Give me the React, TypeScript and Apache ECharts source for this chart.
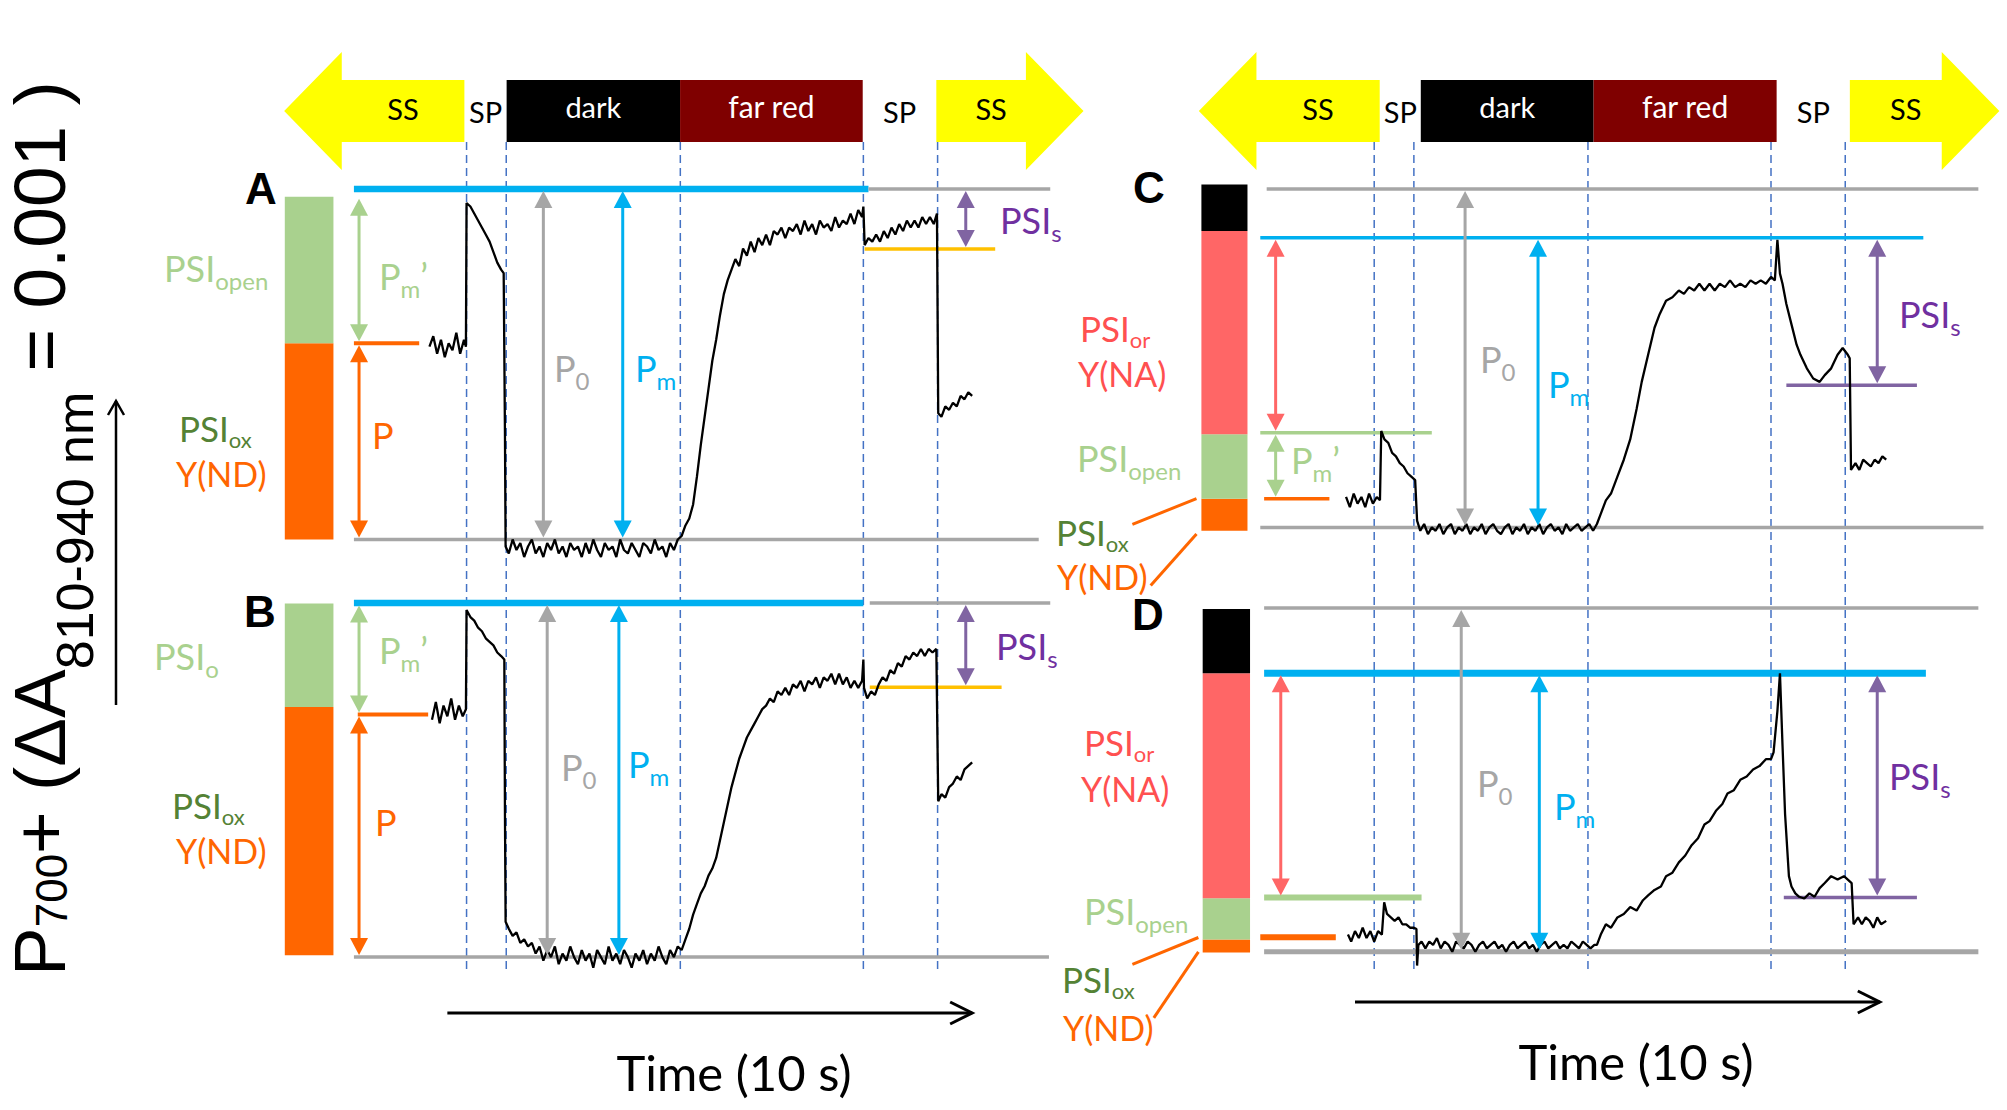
import React, { useEffect, useRef } from "react";
import * as echarts from "echarts";

// ================= DATA =================
// light-regime phases (time in s, relative to the first saturation pulse)
const phaseNames = ["SS", "SP", "dark", "far red", "SP", "SS"];
const phaseStartsAB = [-14.25, -0.17, 3.13, 16.68, 30.95, 36.7];
const phaseEndsAB = [-0.17, 3.13, 16.68, 30.95, 36.7, 48.2];
const phaseStartsCD = [-13.7, 0.43, 3.64, 17.14, 31.44, 37.16];
const phaseEndsCD = [0.43, 3.64, 17.14, 31.44, 37.16, 48.84];
// dashed event lines (s)
const eventTimes = [0, 3.1, 16.7, 31.0, 36.8];

// signal levels (baseline = 0, P0 = 100)
const levelsA = { P: 56.0, open: 97.8, Pm: 100, P0: 100, PSIs: 82.9 };
const levelsB = { P: 68.5, open: 99.8, Pm: 100, P0: 100, PSIs: 76.2 };
const levelsC = { P: 8.5, PmPrime: 28.0, Pm: 85.6, P0: 100, PSIs: 42.0 };
const levelsD = { P: 4.2, PmPrime: 15.8, Pm: 81.0, P0: 100, PSIs: 15.8 };

// stacked PSI-state bars (segment boundaries)
const barA = [0, 56.0, 97.8];
const barB = [0.5, 70.6, 99.8];
const barC = [-1, 8.5, 27.5, 87.6, 101.3];
const barD = [-0.2, 3.6, 15.6, 81.0, 99.7];
const barKindsAB = ["ox", "open"];
const barKindsCD = ["ox", "open", "or", "dark"];

// P700+ traces [time s, signal]
const traceA = [
  [-2.9, 55], [-2.6, 58], [-2.3, 53], [-2.0, 57], [-1.7, 52], [-1.4, 56], [-1.1, 54], [-0.8, 59], [-0.5, 53], [-0.2, 57], [-0.05, 55],
  [0.0, 96], [0.3, 95], [0.6, 93], [0.9, 91], [1.2, 89], [1.5, 87], [1.8, 85], [2.1, 82], [2.4, 79], [2.7, 77], [2.9, 76],
  [3.0, 30], [3.05, -2], [3.3, -4], [3.6, 0], [3.9, -3], [4.2, -1], [4.5, -5], [4.8, -2], [5.1, 0], [5.4, -4], [5.7, -2], [6.0, -5],
  [6.3, -1], [6.6, -3], [6.9, 0], [7.2, -4], [7.5, -2], [7.8, -5], [8.1, -1], [8.4, -3], [8.7, -2], [9.0, -5], [9.3, -1], [9.6, -4],
  [9.9, 0], [10.2, -3], [10.5, -5], [10.8, -1], [11.1, -3], [11.4, -2], [11.7, -5], [12.0, 0], [12.3, -3], [12.6, -4], [12.9, -1],
  [13.2, -3], [13.5, -5], [13.8, -1], [14.1, -2], [14.4, -4], [14.7, 0], [15.0, -3], [15.3, -2], [15.6, -5], [15.9, -1], [16.2, -3], [16.5, 0],
  [16.8, 1], [17.1, 4], [17.4, 6], [17.7, 10], [18.0, 18], [18.3, 27], [18.6, 35], [18.9, 43], [19.2, 51], [19.5, 57], [19.8, 64],
  [20.1, 70], [20.4, 74], [20.7, 77], [21.0, 80], [21.3, 78], [21.6, 83], [21.9, 81], [22.2, 85], [22.5, 82], [22.8, 86], [23.1, 84],
  [23.4, 87], [23.7, 84], [24.0, 88], [24.3, 87], [24.6, 89], [24.9, 86], [25.2, 89], [25.5, 88], [25.8, 90], [26.1, 87], [26.4, 91],
  [26.7, 88], [27.0, 90], [27.3, 87], [27.6, 91], [27.9, 89], [28.2, 90], [28.5, 88], [28.8, 92], [29.1, 89], [29.4, 91], [29.7, 90],
  [30.0, 93], [30.3, 90], [30.6, 94], [30.9, 92],
  [31.0, 95], [31.1, 84], [31.4, 86], [31.7, 85], [32.0, 87], [32.3, 85], [32.6, 88], [32.9, 86], [33.2, 89], [33.5, 87], [33.8, 90],
  [34.1, 88], [34.4, 91], [34.7, 89], [35.0, 91], [35.3, 89], [35.6, 92], [35.9, 90], [36.2, 92], [36.5, 90], [36.75, 93],
  [36.85, 36], [37.1, 35], [37.4, 38], [37.7, 37], [38.0, 39], [38.3, 38], [38.6, 41], [38.9, 40], [39.2, 42], [39.5, 41],
];

const traceB = [
  [-2.7, 67], [-2.4, 72], [-2.1, 66], [-1.8, 71], [-1.5, 68], [-1.2, 73], [-0.9, 67], [-0.6, 71], [-0.3, 68], [-0.05, 70],
  [0.0, 98], [0.3, 96], [0.6, 95], [0.9, 93], [1.2, 92], [1.5, 90], [1.8, 89], [2.1, 88], [2.4, 86], [2.7, 85], [2.95, 84],
  [3.0, 40], [3.05, 10], [3.3, 8], [3.6, 6], [3.9, 7], [4.2, 4], [4.5, 5], [4.8, 3], [5.1, 4], [5.4, 1], [5.7, 3], [6.0, -1],
  [6.3, 2], [6.6, 0], [6.9, 3], [7.2, -2], [7.5, 1], [7.8, -1], [8.1, 3], [8.4, 0], [8.7, -2], [9.0, 2], [9.3, -1], [9.6, 1],
  [9.9, -3], [10.2, 2], [10.5, 0], [10.8, -2], [11.1, 3], [11.4, -1], [11.7, 1], [12.0, -2], [12.3, 2], [12.6, 0], [12.9, -3],
  [13.2, 1], [13.5, -1], [13.8, 2], [14.1, -2], [14.4, 1], [14.7, -1], [15.0, 3], [15.3, 0], [15.6, -2], [15.9, 2], [16.2, 0], [16.5, 3],
  [16.8, 2], [17.1, 5], [17.4, 8], [17.7, 12], [18.0, 15], [18.3, 18], [18.6, 20], [18.9, 23], [19.2, 25], [19.5, 28], [19.8, 33],
  [20.1, 38], [20.4, 43], [20.7, 48], [21.0, 52], [21.3, 56], [21.6, 59], [21.9, 62], [22.2, 64], [22.5, 66], [22.8, 68], [23.1, 70],
  [23.4, 71], [23.7, 73], [24.0, 72], [24.3, 75], [24.6, 74], [24.9, 76], [25.2, 74], [25.5, 77], [25.8, 76], [26.1, 78], [26.4, 75],
  [26.7, 78], [27.0, 77], [27.3, 79], [27.6, 76], [27.9, 79], [28.2, 78], [28.5, 80], [28.8, 77], [29.1, 80], [29.4, 77], [29.7, 79],
  [30.0, 76], [30.3, 78], [30.6, 76], [30.9, 78],
  [31.0, 84], [31.05, 76], [31.3, 73], [31.6, 75], [31.9, 74], [32.2, 77], [32.5, 79], [32.8, 78], [33.1, 81], [33.4, 80], [33.7, 83],
  [34.0, 82], [34.3, 85], [34.6, 84], [34.9, 86], [35.2, 85], [35.5, 87], [35.8, 85], [36.1, 87], [36.4, 86], [36.7, 87],
  [36.85, 44], [37.1, 46], [37.4, 45], [37.7, 48], [38.0, 49], [38.3, 51], [38.6, 50], [38.9, 53], [39.2, 54], [39.5, 55],
];

const traceC = [
  [-2.2, 9], [-1.9, 6], [-1.6, 10], [-1.3, 7], [-1.0, 9], [-0.7, 6], [-0.4, 10], [-0.1, 7], [0.2, 9], [0.45, 8],
  [0.55, 28.5], [0.8, 26], [1.1, 25], [1.4, 22], [1.7, 21], [2.0, 19], [2.3, 18], [2.6, 16], [2.9, 15], [3.2, 14],
  [3.35, 2], [3.6, -1], [3.9, 1], [4.2, -2], [4.5, 0], [4.8, -1], [5.1, 1], [5.4, -2], [5.7, 0], [6.0, 1], [6.3, -2], [6.6, 0],
  [6.9, -1], [7.2, 1], [7.5, -2], [7.8, 0], [8.1, -1], [8.4, 1], [8.7, -2], [9.0, 0], [9.3, 1], [9.6, -1], [9.9, -2], [10.2, 0],
  [10.5, 1], [10.8, -2], [11.1, 0], [11.4, -1], [11.7, 1], [12.0, -2], [12.3, 0], [12.6, -1], [12.9, 1], [13.2, -2], [13.5, 0],
  [13.8, 1], [14.1, -1], [14.4, 0], [14.7, -2], [15.0, 1], [15.3, -1], [15.6, 0], [15.9, 1], [16.2, -1], [16.5, 0], [16.8, 1],
  [17.1, -1], [17.4, 1],
  [17.7, 4], [18.1, 8], [18.5, 10], [19.0, 15], [19.5, 20], [20.0, 26], [20.5, 35], [20.9, 43], [21.4, 51], [21.9, 59], [22.3, 63],
  [22.8, 67], [23.3, 68], [23.8, 70], [24.2, 69], [24.6, 71], [25.0, 70], [25.4, 72], [25.8, 70], [26.2, 72], [26.6, 70], [27.0, 72],
  [27.4, 71], [27.8, 73], [28.2, 71], [28.6, 72], [29.0, 71], [29.4, 73], [29.8, 72], [30.2, 73], [30.6, 72], [31.0, 74], [31.3, 73],
  [31.5, 85], [31.7, 75], [31.9, 72], [32.2, 66], [32.6, 60], [33.0, 54], [33.3, 51], [33.8, 47], [34.3, 44], [34.8, 43], [35.2, 45],
  [35.7, 47], [36.2, 51], [36.6, 53], [37.0, 51], [37.15, 50],
  [37.25, 17], [37.6, 19], [37.9, 17], [38.2, 20], [38.5, 19], [38.8, 18], [39.1, 20], [39.4, 19], [39.7, 21], [40.0, 20],
];

const traceD = [
  [-2.05, 5], [-1.8, 3], [-1.5, 6], [-1.2, 4], [-0.9, 7], [-0.6, 4], [-0.3, 6], [0.0, 3], [0.3, 6], [0.6, 5],
  [0.78, 14.4], [1.0, 11], [1.3, 10], [1.6, 9], [1.9, 10], [2.2, 8], [2.5, 8], [2.8, 7], [3.1, 7], [3.3, 6.6],
  [3.35, -4], [3.45, 2], [3.7, 3], [4.0, 1], [4.3, 3], [4.6, 2], [4.9, 4], [5.2, 1], [5.5, 3], [5.8, 2], [6.1, 0], [6.4, 3],
  [6.7, 2], [7.0, 1], [7.3, 3], [7.6, 2], [7.9, 0], [8.2, 2], [8.5, 3], [8.8, 1], [9.1, 2], [9.4, 3], [9.7, 1], [10.0, 2],
  [10.3, 0], [10.6, 2], [10.9, 3], [11.2, 1], [11.5, 2], [11.8, 3], [12.1, 1], [12.4, 2], [12.7, 0], [13.0, 2], [13.3, 3],
  [13.6, 1], [13.9, 2], [14.2, 3], [14.5, 1], [14.8, 2], [15.1, 1], [15.4, 3], [15.7, 2], [16.0, 1], [16.3, 3], [16.6, 2],
  [16.9, 1], [17.2, 2],
  [17.4, 2], [17.7, 5], [18.1, 8], [18.5, 7], [19.0, 10], [19.5, 11], [20.0, 13], [20.5, 12], [21.0, 15], [21.4, 16.4], [21.9, 18],
  [22.4, 19], [22.8, 22], [23.3, 23], [23.8, 26], [24.3, 28], [24.8, 31], [25.3, 33], [25.8, 37], [26.2, 38], [26.7, 41], [27.2, 43],
  [27.6, 46], [28.1, 47], [28.6, 50], [29.1, 51], [29.6, 53], [30.1, 54], [30.6, 56], [31.0, 56], [31.2, 58],
  [31.5, 70], [31.7, 81], [31.9, 60], [32.1, 40], [32.2, 34], [32.4, 22], [32.6, 19], [32.9, 17], [33.2, 16], [33.6, 15.5], [34.0, 17],
  [34.4, 16], [34.8, 18.5], [35.2, 20], [35.7, 22], [36.2, 21], [36.7, 22], [37.0, 21], [37.3, 20],
  [37.45, 8], [37.8, 10], [38.1, 8], [38.4, 10], [38.7, 9], [39.0, 7], [39.3, 10], [39.6, 8], [40.0, 9],
];

// ================= LAYOUT & STYLE =================
const W = 2007;
const H = 1110;
const FONT = "Lato, 'Liberation Sans', Arial, sans-serif";
const SANS = "'Liberation Sans', Arial, Helvetica, sans-serif";
const CENTRAL_LATO = 0.387;
const CENTRAL_SANS = 0.3465;
const X_MIN = -36;
const X_MAX = 49;
const PX = 12.8; // px per second
const Y_MIN = -15;
const Y_MAX = 115;
const COL_ORIGIN = [466.56, 1374.2];
const COL_TIME_Y = [1013, 1002];
const TIME_SPAN = [-1.5, 39.5];
const HEAD_TOP = 52, HEAD_BOT = 170, BODY_TOP = 80, BODY_BOT = 142, HEAD_LEN = 4.5;
const DASH_TOP = 142, DASH_BOT = 973;

const COL = {
  yellow: "#FFFF00", farRed: "#7F0000", blue: "#00B0F0", gray: "#A6A6A6", dash: "#4472C4",
  green: "#A9D18E", orange: "#FF6600", dkGreen: "#548235", red: "#FF6666", redText: "#FF5050",
  purple: "#8064A2", purpleText: "#7030A0", gold: "#FFC000",
};
const BAR_COLORS: Record<string, string> = { ox: COL.orange, open: COL.green, or: COL.red, dark: "#000000" };

type Part = [string, "m" | "s"];
type Label = { x: number; y: number; parts: Part[]; color: string; main?: number; sub?: number; drop?: number };

const PSI = (s: string): Part[] => [["PSI", "m"], [s, "s"]];
const PMP: Part[] = [["P", "m"], ["m", "s"], ["\u2019", "m"]];
// compact sizes for the tightly stacked two-line labels
const UPPER = { main: 35, sub: 22, drop: 6 };
const LOWER = { main: 34 };

const panels: any[] = [
  {
    col: 0, top: 189, base: 539.5, trace: traceA, bar: barA, kinds: barKindsAB, barX: [-14.2, -10.4],
    letter: { t: "A", x: 261, y: 188 },
    lines: [
      { lv: levelsA.Pm, from: -8.8, to: 31.4, color: COL.blue, width: 6.5 },
      { lv: levelsA.P0, from: 31.4, to: 45.6, color: COL.gray, width: 3.5 },
      { lv: 0, from: -8.8, to: 44.7, color: COL.gray, width: 3.5 },
      { lv: levelsA.P, from: -8.8, to: -3.7, color: COL.orange, width: 4 },
      { lv: levelsA.PSIs, from: 31.1, to: 41.3, color: COL.gold, width: 3.5 },
    ],
    arrows: [
      { x: -8.4, from: levelsA.open, to: levelsA.P, color: COL.green },
      { x: -8.4, from: levelsA.P, to: 0, color: COL.orange },
      { x: 6.0, from: levelsA.P0, to: 0, color: COL.gray },
      { x: 12.2, from: levelsA.Pm, to: 0, color: COL.blue },
      { x: 39.0, from: levelsA.P0, to: levelsA.PSIs, color: COL.purple },
    ],
    labels: [
      { x: 164, y: 282, parts: PSI("open"), color: COL.green },
      { x: 179, y: 442, parts: PSI("ox"), color: COL.dkGreen, ...UPPER },
      { x: 176, y: 487, parts: [["Y(ND)", "m"]], color: COL.orange, ...LOWER },
      { x: 379, y: 290, parts: PMP, color: COL.green },
      { x: 372, y: 449, parts: [["P", "m"]], color: COL.orange },
      { x: 554, y: 382, parts: [["P", "m"], ["0", "s"]], color: COL.gray },
      { x: 635, y: 382, parts: [["P", "m"], ["m", "s"]], color: COL.blue },
      { x: 1000, y: 234, parts: PSI("s"), color: COL.purpleText },
    ] as Label[],
  },
  {
    col: 0, top: 602.9, base: 957.1, trace: traceB, bar: barB, kinds: barKindsAB, barX: [-14.2, -10.4],
    letter: { t: "B", x: 260, y: 611 },
    lines: [
      { lv: levelsB.Pm, from: -8.8, to: 31.0, color: COL.blue, width: 6.5 },
      { lv: levelsB.P0, from: 31.5, to: 45.6, color: COL.gray, width: 3.5 },
      { lv: 0, from: -8.8, to: 45.5, color: COL.gray, width: 3.5 },
      { lv: levelsB.P, from: -8.5, to: -3.0, color: COL.orange, width: 4 },
      { lv: levelsB.PSIs, from: 31.5, to: 41.8, color: COL.gold, width: 3.5 },
    ],
    arrows: [
      { x: -8.4, from: levelsB.open, to: levelsB.P, color: COL.green },
      { x: -8.4, from: levelsB.P, to: 0, color: COL.orange },
      { x: 6.3, from: levelsB.P0, to: 0, color: COL.gray },
      { x: 11.9, from: levelsB.Pm, to: 0, color: COL.blue },
      { x: 39.0, from: levelsB.P0, to: levelsB.PSIs, color: COL.purple },
    ],
    labels: [
      { x: 154, y: 670, parts: PSI("o"), color: COL.green },
      { x: 172, y: 819, parts: PSI("ox"), color: COL.dkGreen, ...UPPER },
      { x: 176, y: 864, parts: [["Y(ND)", "m"]], color: COL.orange, ...LOWER },
      { x: 379, y: 664, parts: PMP, color: COL.green },
      { x: 375, y: 836, parts: [["P", "m"]], color: COL.orange },
      { x: 561, y: 781, parts: [["P", "m"], ["0", "s"]], color: COL.gray },
      { x: 628, y: 778, parts: [["P", "m"], ["m", "s"]], color: COL.blue },
      { x: 996, y: 660, parts: PSI("s"), color: COL.purpleText },
    ] as Label[],
  },
  {
    col: 1, top: 189, base: 527.4, trace: traceC, bar: barC, kinds: barKindsCD, barX: [-13.5, -9.9],
    letter: { t: "C", x: 1149, y: 187 },
    lines: [
      { lv: levelsC.P0, from: -8.4, to: 47.2, color: COL.gray, width: 3.5 },
      { lv: levelsC.Pm, from: -8.9, to: 42.9, color: COL.blue, width: 3.5 },
      { lv: 0, from: -8.9, to: 47.6, color: COL.gray, width: 3.5 },
      { lv: levelsC.PmPrime, from: -8.9, to: 4.5, color: COL.green, width: 3.5 },
      { lv: levelsC.P, from: -8.6, to: -3.5, color: COL.orange, width: 3.5 },
      { lv: levelsC.PSIs, from: 32.2, to: 42.4, color: COL.purple, width: 3.5 },
    ],
    arrows: [
      { x: -7.7, from: levelsC.Pm, to: levelsC.PmPrime, color: COL.red },
      { x: -7.7, from: levelsC.PmPrime, to: levelsC.P, color: COL.green },
      { x: 7.1, from: levelsC.P0, to: 0, color: COL.gray },
      { x: 12.8, from: levelsC.Pm, to: 0, color: COL.blue },
      { x: 39.3, from: levelsC.Pm, to: levelsC.PSIs, color: COL.purple },
    ],
    labels: [
      { x: 1080, y: 342, parts: PSI("or"), color: COL.redText, ...UPPER },
      { x: 1078, y: 387, parts: [["Y(NA)", "m"]], color: COL.redText, ...LOWER },
      { x: 1077, y: 472, parts: PSI("open"), color: COL.green },
      { x: 1056, y: 546, parts: PSI("ox"), color: COL.dkGreen, ...UPPER },
      { x: 1057, y: 590, parts: [["Y(ND)", "m"]], color: COL.orange, ...LOWER },
      { x: 1480, y: 373, parts: [["P", "m"], ["0", "s"]], color: COL.gray },
      { x: 1548, y: 398, parts: [["P", "m"], ["m", "s"]], color: COL.blue },
      { x: 1291, y: 474, parts: PMP, color: COL.green },
      { x: 1899, y: 328, parts: PSI("s"), color: COL.purpleText },
    ] as Label[],
    connectors: [[1196.5, 498.6, 1132.4, 524.3], [1196.5, 533.9, 1150.7, 585.5]],
  },
  {
    col: 1, top: 607.9, base: 951.8, trace: traceD, bar: barD, kinds: barKindsCD, barX: [-13.4, -9.7],
    letter: { t: "D", x: 1148, y: 614 },
    lines: [
      { lv: levelsD.P0, from: -8.6, to: 47.2, color: COL.gray, width: 3.5 },
      { lv: levelsD.Pm, from: -8.6, to: 43.1, color: COL.blue, width: 7 },
      { lv: 0, from: -8.6, to: 47.2, color: COL.gray, width: 5 },
      { lv: levelsD.PmPrime, from: -8.6, to: 3.7, color: COL.green, width: 6 },
      { lv: levelsD.P, from: -8.9, to: -3.0, color: COL.orange, width: 6 },
      { lv: levelsD.PSIs, from: 32.0, to: 42.4, color: COL.purple, width: 3.5 },
    ],
    arrows: [
      { x: -7.3, from: levelsD.Pm, to: levelsD.PmPrime, color: COL.red },
      { x: 6.8, from: levelsD.P0, to: 0, color: COL.gray },
      { x: 12.9, from: levelsD.Pm, to: 0, color: COL.blue },
      { x: 39.3, from: levelsD.Pm, to: levelsD.PSIs, color: COL.purple },
    ],
    labels: [
      { x: 1084, y: 756, parts: PSI("or"), color: COL.redText, ...UPPER },
      { x: 1081, y: 802, parts: [["Y(NA)", "m"]], color: COL.redText, ...LOWER },
      { x: 1084, y: 925, parts: PSI("open"), color: COL.green },
      { x: 1062, y: 993, parts: PSI("ox"), color: COL.dkGreen, ...UPPER },
      { x: 1063, y: 1041, parts: [["Y(ND)", "m"]], color: COL.orange, ...LOWER },
      { x: 1477, y: 797, parts: [["P", "m"], ["0", "s"]], color: COL.gray },
      { x: 1554, y: 820, parts: [["P", "m"], ["m", "s"]], color: COL.blue },
      { x: 1889, y: 790, parts: PSI("s"), color: COL.purpleText },
    ] as Label[],
    connectors: [[1198.4, 937.5, 1132.4, 964.3], [1198.4, 951.8, 1153.8, 1017.9]],
  },
];

let measureCtx: CanvasRenderingContext2D | null = null;
function textWidth(text: string, font: string): number {
  if (!measureCtx) measureCtx = document.createElement("canvas").getContext("2d");
  measureCtx!.font = font;
  return measureCtx!.measureText(text).width;
}

function labelEls(l: Label) {
  const main = l.main ?? 36, sub = l.sub ?? 24, drop = l.drop ?? 8;
  const out: any[] = [];
  let cx = l.x;
  for (const [txt, kind] of l.parts) {
    const size = kind === "s" ? sub : main;
    const bl = kind === "s" ? l.y + drop : l.y;
    const font = `${size}px ${FONT}`;
    out.push({
      type: "text", x: cx, y: bl - CENTRAL_LATO * size, silent: true, z: 50,
      style: {
        text: txt, fill: l.color, font, align: "left", verticalAlign: "middle",
        lineHeight: kind === "s" ? Math.round(size * 0.75) : Math.round(size * 0.95),
      },
    });
    cx += textWidth(txt, font);
  }
  return out;
}

function titleGroup() {
  const parts: [string, number, number][] = [
    ["P", 0, 73], ["700", 2, 44], ["+ (", 0, 73], ["\u0394A", 0, 73], ["810-940 nm", 28, 52], [" = 0.001 )", 0, 73],
  ];
  let lx = 0;
  const children: any[] = [];
  for (const [t, drop, size] of parts) {
    const font = `${size}px ${SANS}`;
    children.push({
      type: "text", x: lx, y: drop - CENTRAL_SANS * size,
      style: { text: t, fill: "#000", font, align: "left", verticalAlign: "middle" },
    });
    lx += textWidth(t, font);
  }
  return { type: "group", x: 65, y: 976, rotation: Math.PI / 2, children, silent: true };
}

function buildOption() {
  const grid: any[] = [];
  const xAxis: any[] = [];
  const yAxis: any[] = [];
  const series: any[] = [];
  const graphic: any[] = [titleGroup()];

  // vertical signal arrow
  graphic.push({ type: "line", shape: { x1: 116, y1: 705, x2: 116, y2: 401 }, style: { stroke: "#000", lineWidth: 2.5 } });
  graphic.push({ type: "polyline", shape: { points: [[108, 415], [116, 401], [124, 415]] }, style: { stroke: "#000", lineWidth: 2.5, fill: null } });

  panels.forEach((p, i) => {
    const scale = (p.base - p.top) / 100;
    const origin = COL_ORIGIN[p.col];
    grid.push({
      left: origin + X_MIN * PX, top: p.top - (Y_MAX - 100) * scale,
      width: (X_MAX - X_MIN) * PX, height: (Y_MAX - Y_MIN) * scale, show: false,
    });
    xAxis.push({ type: "value", gridIndex: i, min: X_MIN, max: X_MAX, show: false });
    yAxis.push({ type: "value", gridIndex: i, min: Y_MIN, max: Y_MAX, show: false });
    const ax = { xAxisIndex: i, yAxisIndex: i };

    // stacked PSI bar
    series.push({
      type: "custom", ...ax, silent: true, z: 2,
      data: p.bar.slice(0, -1).map((v0: number, k: number) => [v0, p.bar[k + 1], k]),
      renderItem: (_params: any, api: any) => {
        const a = api.coord([p.barX[0], api.value(1)]);
        const b = api.coord([p.barX[1], api.value(0)]);
        return {
          type: "rect", shape: { x: a[0], y: a[1], width: b[0] - a[0], height: b[1] - a[1] },
          style: { fill: BAR_COLORS[p.kinds[api.value(2)]] },
        };
      },
    });

    // horizontal level lines
    series.push({
      type: "custom", ...ax, silent: true, z: 2,
      data: p.lines.map((l: any) => [l.from, l.to, l.lv]),
      renderItem: (params: any, api: any) => {
        const spec = p.lines[params.dataIndex];
        const a = api.coord([api.value(0), api.value(2)]);
        const b = api.coord([api.value(1), api.value(2)]);
        return {
          type: "line", shape: { x1: a[0], y1: a[1], x2: b[0], y2: b[1] },
          style: { stroke: spec.color, lineWidth: spec.width },
        };
      },
    });

    // trace
    series.push({
      type: "line", ...ax, data: p.trace, symbol: "none", silent: true, z: 4,
      lineStyle: { color: "#000", width: 2.3 },
    });

    // double arrows
    series.push({
      type: "custom", ...ax, silent: true, z: 5,
      data: p.arrows.map((a: any) => [a.x, a.from, a.to]),
      renderItem: (params: any, api: any) => {
        const spec = p.arrows[params.dataIndex];
        const a = api.coord([api.value(0), api.value(1)]);
        const b = api.coord([api.value(0), api.value(2)]);
        const x = a[0];
        const dir = b[1] > a[1] ? 1 : -1;
        const inset = 2;
        const ya = a[1] + dir * inset;
        const yb = b[1] - dir * inset;
        const HL = 17, HW = 9;
        return {
          type: "group",
          children: [
            { type: "line", shape: { x1: x, y1: ya + dir * HL * 0.8, x2: x, y2: yb - dir * HL * 0.8 }, style: { stroke: spec.color, lineWidth: 3 } },
            { type: "polygon", shape: { points: [[x, ya], [x - HW, ya + dir * HL], [x + HW, ya + dir * HL]] }, style: { fill: spec.color } },
            { type: "polygon", shape: { points: [[x, yb], [x - HW, yb - dir * HL], [x + HW, yb - dir * HL]] }, style: { fill: spec.color } },
          ],
        };
      },
    });

    // column furniture on the top panel of each column
    if (i === 0 || i === 2) {
      const starts = p.col === 0 ? phaseStartsAB : phaseStartsCD;
      const ends = p.col === 0 ? phaseEndsAB : phaseEndsCD;
      series.push({
        type: "custom", ...ax, silent: true, z: 3,
        data: starts.map((s, k) => [s, ends[k], k]),
        renderItem: (params: any, api: any) => {
          const s = api.value(0), e = api.value(1), k = params.dataIndex;
          const name = phaseNames[k];
          const x0 = api.coord([s, 0])[0];
          const x1 = api.coord([e, 0])[0];
          const ym = (BODY_TOP + BODY_BOT) / 2;
          const txt = (cx: number, color: string, size: number, dy: number) => ({
            type: "text", x: cx, y: ym + dy,
            style: { text: name, fill: color, font: `${size}px ${FONT}`, align: "center", verticalAlign: "middle" },
          });
          if (name === "SS") {
            const left = k === 0;
            const hb = api.coord([left ? s + HEAD_LEN : e - HEAD_LEN, 0])[0];
            const pts = left
              ? [[x0, ym], [hb, HEAD_TOP], [hb, BODY_TOP], [x1, BODY_TOP], [x1, BODY_BOT], [hb, BODY_BOT], [hb, HEAD_BOT]]
              : [[x1, ym], [hb, HEAD_TOP], [hb, BODY_TOP], [x0, BODY_TOP], [x0, BODY_BOT], [hb, BODY_BOT], [hb, HEAD_BOT]];
            return {
              type: "group",
              children: [
                { type: "polygon", shape: { points: pts }, style: { fill: COL.yellow } },
                txt(left ? (hb + x1) / 2 : (x0 + hb) / 2 + 10, "#000", 29, -3),
              ],
            };
          }
          if (name === "SP") return txt((x0 + x1) / 2, "#000", 29, 0);
          return {
            type: "group",
            children: [
              { type: "rect", shape: { x: x0, y: BODY_TOP, width: x1 - x0, height: BODY_BOT - BODY_TOP }, style: { fill: name === "dark" ? "#000" : COL.farRed } },
              txt((x0 + x1) / 2, "#FFFFFF", name === "dark" ? 29 : 30, -5),
            ],
          };
        },
      });
      series.push({
        type: "custom", ...ax, silent: true, z: 1,
        data: eventTimes.map((t) => [t, 0]),
        renderItem: (_params: any, api: any) => {
          const x = api.coord([api.value(0), 0])[0];
          return {
            type: "line", shape: { x1: x, y1: DASH_TOP, x2: x, y2: DASH_BOT },
            style: { stroke: COL.dash, lineWidth: 1.5, lineDash: [8, 5] },
          };
        },
      });
      const ty = COL_TIME_Y[p.col];
      series.push({
        type: "custom", ...ax, silent: true, z: 3,
        data: [[TIME_SPAN[0], TIME_SPAN[1]]],
        renderItem: (_params: any, api: any) => {
          const a = api.coord([api.value(0), 0])[0];
          const b = api.coord([api.value(1), 0])[0];
          return {
            type: "group",
            children: [
              { type: "line", shape: { x1: a, y1: ty, x2: b, y2: ty }, style: { stroke: "#000", lineWidth: 3 } },
              { type: "polyline", shape: { points: [[b - 22, ty - 11], [b, ty], [b - 22, ty + 11]] }, style: { stroke: "#000", lineWidth: 3, fill: null } },
            ],
          };
        },
      });
    }

    // annotations
    graphic.push({
      type: "text", x: p.letter.x, y: p.letter.y, silent: true, z: 50,
      style: { text: p.letter.t, fill: "#000", font: `bold 44px ${SANS}`, align: "center", verticalAlign: "middle" },
    });
    p.labels.forEach((l: Label) => graphic.push(...labelEls(l)));
    (p.connectors || []).forEach((c: number[]) =>
      graphic.push({ type: "line", shape: { x1: c[0], y1: c[1], x2: c[2], y2: c[3] }, style: { stroke: COL.orange, lineWidth: 3 } })
    );
  });

  // time axis labels
  const TS = 49;
  graphic.push({
    type: "text", x: 734, y: 1091 - CENTRAL_LATO * TS, silent: true,
    style: { text: "Time (10 s)", fill: "#000", font: `${TS}px ${FONT}`, align: "center", verticalAlign: "middle" },
  });
  graphic.push({
    type: "text", x: 1636, y: 1080 - CENTRAL_LATO * TS, silent: true,
    style: { text: "Time (10 s)", fill: "#000", font: `${TS}px ${FONT}`, align: "center", verticalAlign: "middle" },
  });

  return { animation: false, backgroundColor: "#FFFFFF", grid, xAxis, yAxis, series, graphic };
}

export default function App() {
  const ref = useRef<HTMLDivElement>(null);
  useEffect(() => {
    if (!ref.current) return;
    const chart = echarts.init(ref.current, undefined, { renderer: "svg" });
    chart.setOption(buildOption() as any);
    return () => chart.dispose();
  }, []);
  return <div ref={ref} style={{ position: "absolute", left: 0, top: 0, width: W, height: H }} />;
}
